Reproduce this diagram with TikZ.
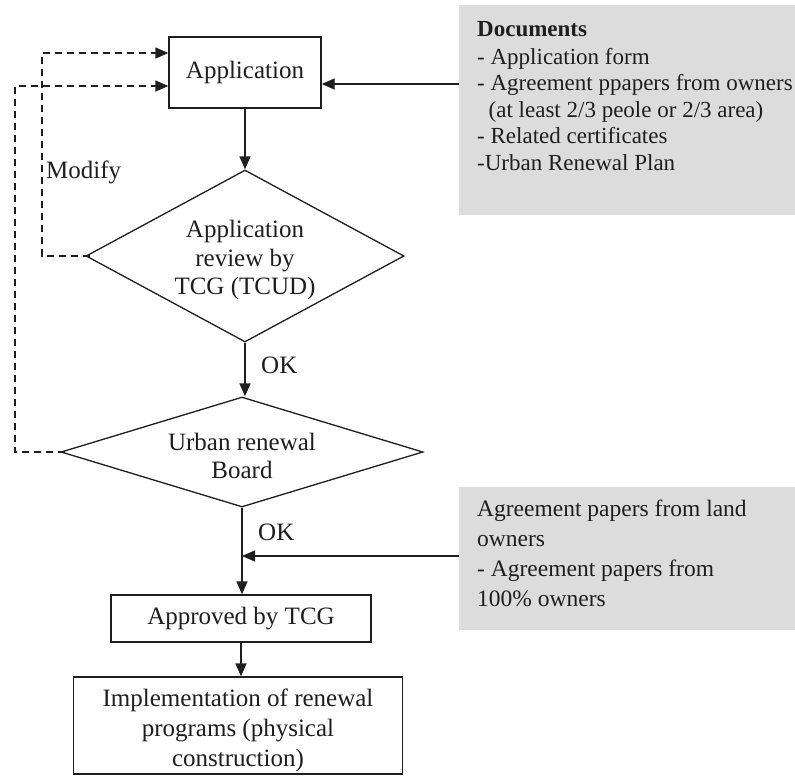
\documentclass[tikz,border=0pt]{standalone}
\usepackage{fontspec}
\setmainfont{Liberation Serif}
\usetikzlibrary{shapes.geometric,arrows.meta}
\definecolor{ink}{RGB}{30,30,30}
\definecolor{notefill}{RGB}{220,220,220}
\tikzset{
  every node/.style={text=ink},
  stepbox/.style={draw=ink, line width=1.3pt, rectangle, inner sep=0pt,
    align=center, font=\fontsize{25}{30}\selectfont},
  decision/.style={draw=ink, line width=1.3pt, diamond, inner sep=0pt},
  dlabel/.style={align=center, font=\fontsize{25}{28.5}\selectfont, yshift=-4pt},
  blabel/.style={align=center, font=\fontsize{25}{30}\selectfont, yshift=-5pt},
  flow/.style={draw=ink, line width=1.3pt, -{Triangle[length=13pt,width=11pt]}},
  loopback/.style={flow, dash pattern=on 7pt off 5pt},
  notebox/.style={fill=notefill, draw=none, rectangle, inner sep=0pt},
  notetext/.style={align=left, anchor=north west, inner sep=0pt},
  tag/.style={anchor=west, inner sep=0pt, font=\fontsize{25}{30}\selectfont}
}
\begin{document}
\begin{tikzpicture}[x=1pt, y=1pt]
\useasboundingbox (0,0) rectangle (795,-777);

% main flow
\node[stepbox, minimum width=152pt, minimum height=71pt] (app) at (245,-72.5) {Application};
\node[decision, minimum width=318pt, minimum height=172pt,
  label={[dlabel]center:Application\\review by\\TCG (TCUD)}] (rev) at (245,-256) {};
\node[decision, minimum width=362pt, minimum height=110pt,
  label={[dlabel]center:Urban renewal\\Board}] (board) at (242,-452) {};
\node[stepbox, minimum width=260pt, minimum height=47pt] (appr) at (241,-618.5) {Approved by TCG};
\node[stepbox, minimum width=329pt, minimum height=97pt,
  label={[blabel]center:Implementation of renewal\\programs (physical\\construction)}] (impl) at (238,-725.5) {};

% side notes
\node[notebox, minimum width=336pt, minimum height=210pt, anchor=north west] (docs) at (459,-5) {};
\node[notetext, font=\fontsize{23}{26.5}\selectfont] (docstext) at (477,-21)
  {\textbf{Documents}\\[1.5pt]
   - Application form\\
   - Agreement ppapers from owners\\
   \ \ (at least 2/3 peole or 2/3 area)\\
   - Related certificates\\
   -Urban Renewal Plan};
\node[notebox, minimum width=336pt, minimum height=143pt, anchor=north west] (land) at (459,-487) {};
\node[notetext, font=\fontsize{23.5}{30}\selectfont] (landtext) at (477,-500)
  {Agreement papers from land\\
   owners\\
   - Agreement papers from\\
   100\% owners};

% connectors
\draw[flow] (app.south) -- (app.south |- rev.north);
\draw[flow] (rev.south) -- (rev.south |- board.north);
\draw[flow] (board.south) -- (board.south |- appr.north);
\draw[flow] (appr.south) -- (appr.south |- impl.north);
\draw[flow] (docs.west |- 0,-84) -- (app.east |- 0,-84);
\coordinate (join) at (242,-556);
\draw[flow] (land.west |- join) -- (join);

% modification loops
\coordinate (l1) at (42,0);
\coordinate (l2) at (15,0);
\draw[loopback] ([xshift=5pt]rev.west) -- (l1 |- rev.west) -- (l1 |- 0,-53) -- (app.west |- 0,-53);
\draw[loopback] ([xshift=5pt]board.west) -- (l2 |- board.west) -- (l2 |- 0,-86) -- (app.west |- 0,-86);

% labels
\node[tag] (modify) at (46,-172) {Modify};
\node[tag] (ok1) at (261,-365) {OK};
\node[tag] (ok2) at (258,-532) {OK};
\end{tikzpicture}
\end{document}
